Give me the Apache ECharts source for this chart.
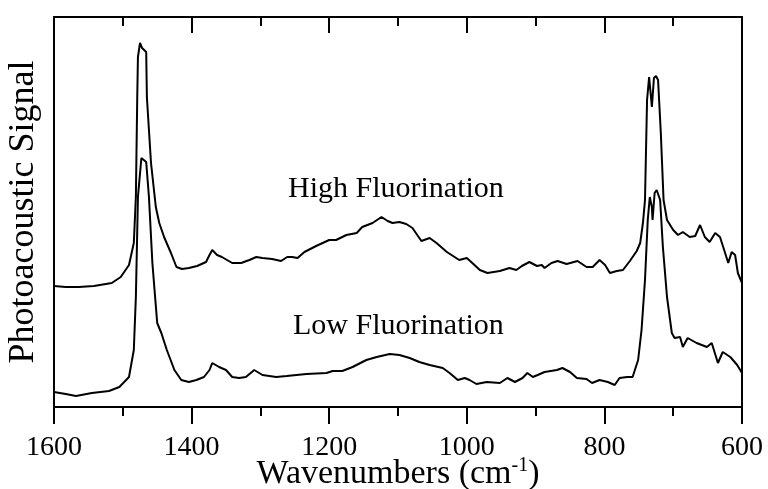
<!DOCTYPE html>
<html>
<head>
<meta charset="utf-8">
<script src="https://cdn.jsdelivr.net/npm/echarts@6/dist/echarts.min.js"></script>
<style>html,body{margin:0;padding:0;background:#fff;}#c{width:768px;height:489px;}</style>
</head>
<body>
<div id="c"></div>
<script>
// X-axis tick labels (wavenumbers, cm-1), axis reversed 1600 -> 600
var xTicks = [1600, 1400, 1200, 1000, 800, 600];

// High Fluorination spectrum
var highWavenumbers = [1600,1583,1564,1542,1516,1503,1491,1484,1481,1479,1478,1475,1472,1466,1465,1459,1452,1447,1440,1430,1422,1414,1404,1392,1379,1374,1370,1363,1356,1341,1328,1316,1306,1297,1283,1270,1261,1254,1246,1236,1219,1200,1190,1175,1160,1152,1137,1124,1115,1108,1098,1088,1079,1066,1054,1044,1029,1011,1000,992,981,970,952,938,928,920,909,898,891,887,877,868,855,839,826,817,807,799,792,782,773,763,753,748,744,741,738,735,731,728,725,722,718,714,709,700,693,686,676,668,661,654,647,639,632,625,620,615,610,606,600];
var highSignal = [121,120,120,121,124,130,142,164,210,310,350,364,359,355,310,244,200,184,170,154,140,138,139,141,145,152,157,152,150,144,144,147,150,149,148,146,150,150,149,155,161,167,167,172,174,180,184,190,186,184,185,183,179,166,169,164,155,147,149,144,137,134,136,139,137,141,145,141,142,139,144,146,143,146,140,140,147,142,134,136,137,146,156,164,184,207,307,330,300,329,331,327,274,207,187,177,172,175,170,171,182,170,165,174,170,155,144,155,152,134,124];

// Low Fluorination spectrum
var lowWavenumbers = [1600,1583,1568,1545,1520,1505,1491,1484,1481,1478,1473,1472,1466,1462,1457,1450,1444,1436,1425,1415,1404,1393,1382,1374,1370,1360,1350,1341,1331,1321,1309,1297,1277,1262,1233,1204,1195,1181,1166,1146,1131,1112,1098,1083,1069,1054,1035,1025,1013,1003,996,986,971,952,941,930,919,912,904,897,887,869,861,850,840,826,818,807,795,785,778,767,759,751,746,741,737,734,731,730,727,724,719,715,709,702,698,690,686,679,666,651,644,635,628,617,607,600];
var lowSignal = [15,13,11,14,16,20,30,57,110,210,249,250,245,210,144,84,74,57,37,27,25,27,30,37,44,40,37,30,29,30,37,32,30,31,33,34,36,36,40,47,50,53,52,49,45,42,39,34,27,29,27,23,25,24,29,25,29,34,30,32,35,37,39,35,29,28,24,27,25,22,29,30,30,47,77,127,187,210,200,187,214,217,207,160,110,74,69,70,60,69,64,60,64,44,55,50,42,34];

var seriesNames = ['High Fluorination', 'Low Fluorination'];

function zip(a, b) { return a.map(function (v, i) { return [v, b[i]]; }); }

var FONT = '"Liberation Serif", "Times New Roman", serif';
var chart = echarts.init(document.getElementById('c'), null, {renderer: 'canvas'});
var xMin = xTicks[xTicks.length - 1], xMax = xTicks[0];

chart.setOption({
  animation: false,
  backgroundColor: '#ffffff',
  grid: {left: 54, right: 26, top: 17, bottom: 82, containLabel: false, outerBoundsMode: 'none'},
  xAxis: [{
    type: 'value', min: xMin, max: xMax, interval: 200, inverse: true, position: 'bottom',
    axisLine: {show: true, onZero: false, lineStyle: {color: '#000', width: 2}},
    axisTick: {show: true, inside: false, length: 17, lineStyle: {color: '#000', width: 2}},
    minorTick: {show: true, splitNumber: 2, length: 9, lineStyle: {color: '#000', width: 2}},
    splitLine: {show: false},
    axisLabel: {color: '#000', fontFamily: FONT, fontSize: 28, margin: 27,
      formatter: function (v) { return String(v); }},
    name: 'Wavenumbers (cm{sup|-1})',
    nameLocation: 'middle', nameGap: 49, nameMoveOverlap: false,
    nameTextStyle: {color: '#000', fontFamily: FONT, fontSize: 34, lineHeight: 36,
      rich: {sup: {fontFamily: FONT, fontSize: 20, color: '#000', verticalAlign: 'top', lineHeight: 36, padding: [0, 0, 14, 0]}}}
  }, {
    type: 'value', min: xMin, max: xMax, interval: 200, inverse: true, position: 'top',
    axisLine: {show: true, onZero: false, lineStyle: {color: '#000', width: 2}},
    axisTick: {show: true, inside: true, length: 16, lineStyle: {color: '#000', width: 2}},
    minorTick: {show: true, splitNumber: 2, length: 9, lineStyle: {color: '#000', width: 2}},
    splitLine: {show: false},
    axisLabel: {show: false}
  }],
  yAxis: [{
    type: 'value', min: 0, max: 390, position: 'left',
    axisLine: {show: true, onZero: false, lineStyle: {color: '#000', width: 2}},
    axisTick: {show: false}, axisLabel: {show: false}, splitLine: {show: false},
    name: 'Photoacoustic Signal', nameLocation: 'middle', nameRotate: 90, nameGap: 12,
    nameMoveOverlap: false,
    nameTextStyle: {color: '#000', fontFamily: FONT, fontSize: 36}
  }, {
    type: 'value', min: 0, max: 390, position: 'right',
    axisLine: {show: true, onZero: false, lineStyle: {color: '#000', width: 2}},
    axisTick: {show: false}, axisLabel: {show: false}, splitLine: {show: false}
  }],
  series: [{
    name: seriesNames[0], type: 'line', showSymbol: false, symbol: 'none',
    data: zip(highWavenumbers, highSignal),
    lineStyle: {color: '#000', width: 2}
  }, {
    name: seriesNames[1], type: 'line', showSymbol: false, symbol: 'none',
    data: zip(lowWavenumbers, lowSignal),
    lineStyle: {color: '#000', width: 2}
  }],
  graphic: [{
    type: 'text', left: 288, top: 174,
    style: {text: seriesNames[0], font: '30px ' + FONT, fill: '#000'}
  }, {
    type: 'text', left: 293, top: 311,
    style: {text: seriesNames[1], font: '30px ' + FONT, fill: '#000'}
  }]
});
</script>
</body>
</html>
